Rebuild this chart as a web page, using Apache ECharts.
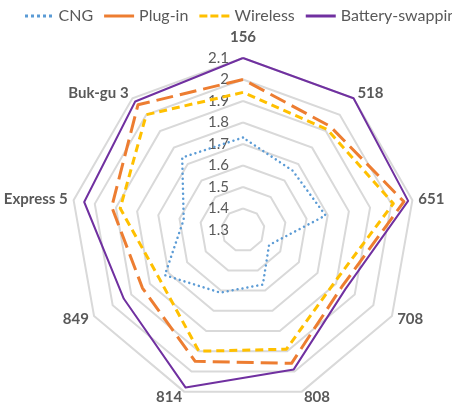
<!DOCTYPE html>
<html lang="en">
<head>
    <meta charset="UTF-8">
    <title>Radar</title>
    <script src="https://cdn.jsdelivr.net/npm/echarts@6/dist/echarts.min.js"></script>
    <style>
        html, body { margin: 0; padding: 0; background: #fff; }
        #main { width: 452px; height: 408px; }
    </style>
</head>
<body>
<div id="main"></div>
<script>
    // categories in clockwise order starting at the top
    var categories = ['156', '518', '651', '708', '808', '814', '849', 'Express 5', 'Buk-gu 3'];
    var seriesNames = ['CNG', 'Plug-in', 'Wireless', 'Battery-swapping'];
    var cng      = [1.73, 1.66, 1.69, 1.44, 1.57, 1.61, 1.72, 1.58, 1.74];
    var plugIn   = [2.00, 1.93, 2.06, 1.83, 1.96, 1.95, 1.84, 1.92, 2.06];
    var wireless = [1.94, 1.91, 2.01, 1.79, 1.89, 1.90, 1.75, 1.88, 2.00];
    var battery  = [2.10, 2.10, 2.08, 1.85, 1.99, 2.08, 1.94, 2.05, 2.08];
    var axisMin = 1.3, axisMax = 2.1, splitCount = 8;

    var colors = ['#5B9BD5', '#ED7D31', '#FFC000', '#7030A0'];
    var values = [cng, plugIn, wireless, battery];

    // echarts lays indicators out counter-clockwise, so reverse after the first one
    var order = [0];
    for (var i = categories.length - 1; i > 0; i--) order.push(i);

    var indicator = order.map(function (idx, k) {
        var ind = {name: categories[idx], min: axisMin, max: axisMax};
        if (k !== 0) ind.axisLabel = {show: false};
        return ind;
    });

    var lineStyles = [
        {width: 2.5, type: [0.01, 5], cap: 'round'},
        {width: 3, type: [17, 7]},
        {width: 3, type: [8, 5]},
        {width: 2}
    ];

    var icons = [
        'path://M0,0h3v3h-3z M6,0h3v3h-3z M12,0h3v3h-3z M18,0h3v3h-3z M24,0h3v3h-3z',
        'path://M0,0h30v3h-30z',
        'path://M0,0h8v3h-8z M11,0h8v3h-8z M22,0h8v3h-8z',
        'path://M0,0h30v3h-30z'
    ];

    var nameFont = {color: '#595959', fontSize: 15, fontWeight: 'bold', fontFamily: 'Lato'};

    var myChart = echarts.init(document.getElementById('main'));

    myChart.setOption({
        animation: false,
        textStyle: {fontFamily: 'Lato'},
        legend: {
            top: 3,
            left: 20,
            width: 800,
            itemWidth: 30,
            itemHeight: 3,
            itemGap: 11,
            data: seriesNames.map(function (n, i) { return {name: n, icon: icons[i]}; }),
            textStyle: {fontSize: 16, color: '#595959', fontFamily: 'Lato'}
        },
        radar: {
            center: [243, 230],
            radius: 172,
            splitNumber: splitCount,
            shape: 'polygon',
            nameGap: 6,
            axisName: Object.assign({
                formatter: function (name) {
                    return name === categories[0] ? '{top|' + name + '}' : name;
                },
                rich: {top: Object.assign({padding: [0, 0, 7, 0]}, nameFont)}
            }, nameFont),
            axisLine: {show: false},
            axisTick: {show: false},
            axisLabel: {show: true, color: '#595959', fontSize: 15, fontFamily: 'Lato', margin: 14},
            splitLine: {lineStyle: {color: '#D9D9D9', width: 2}},
            splitArea: {show: false},
            indicator: indicator
        },
        series: [{
            type: 'radar',
            symbol: 'none',
            data: values.map(function (v, i) {
                return {
                    name: seriesNames[i],
                    value: order.map(function (idx) { return v[idx]; }),
                    itemStyle: {color: colors[i]},
                    lineStyle: Object.assign({color: colors[i]}, lineStyles[i])
                };
            })
        }]
    });
</script>
</body>
</html>
